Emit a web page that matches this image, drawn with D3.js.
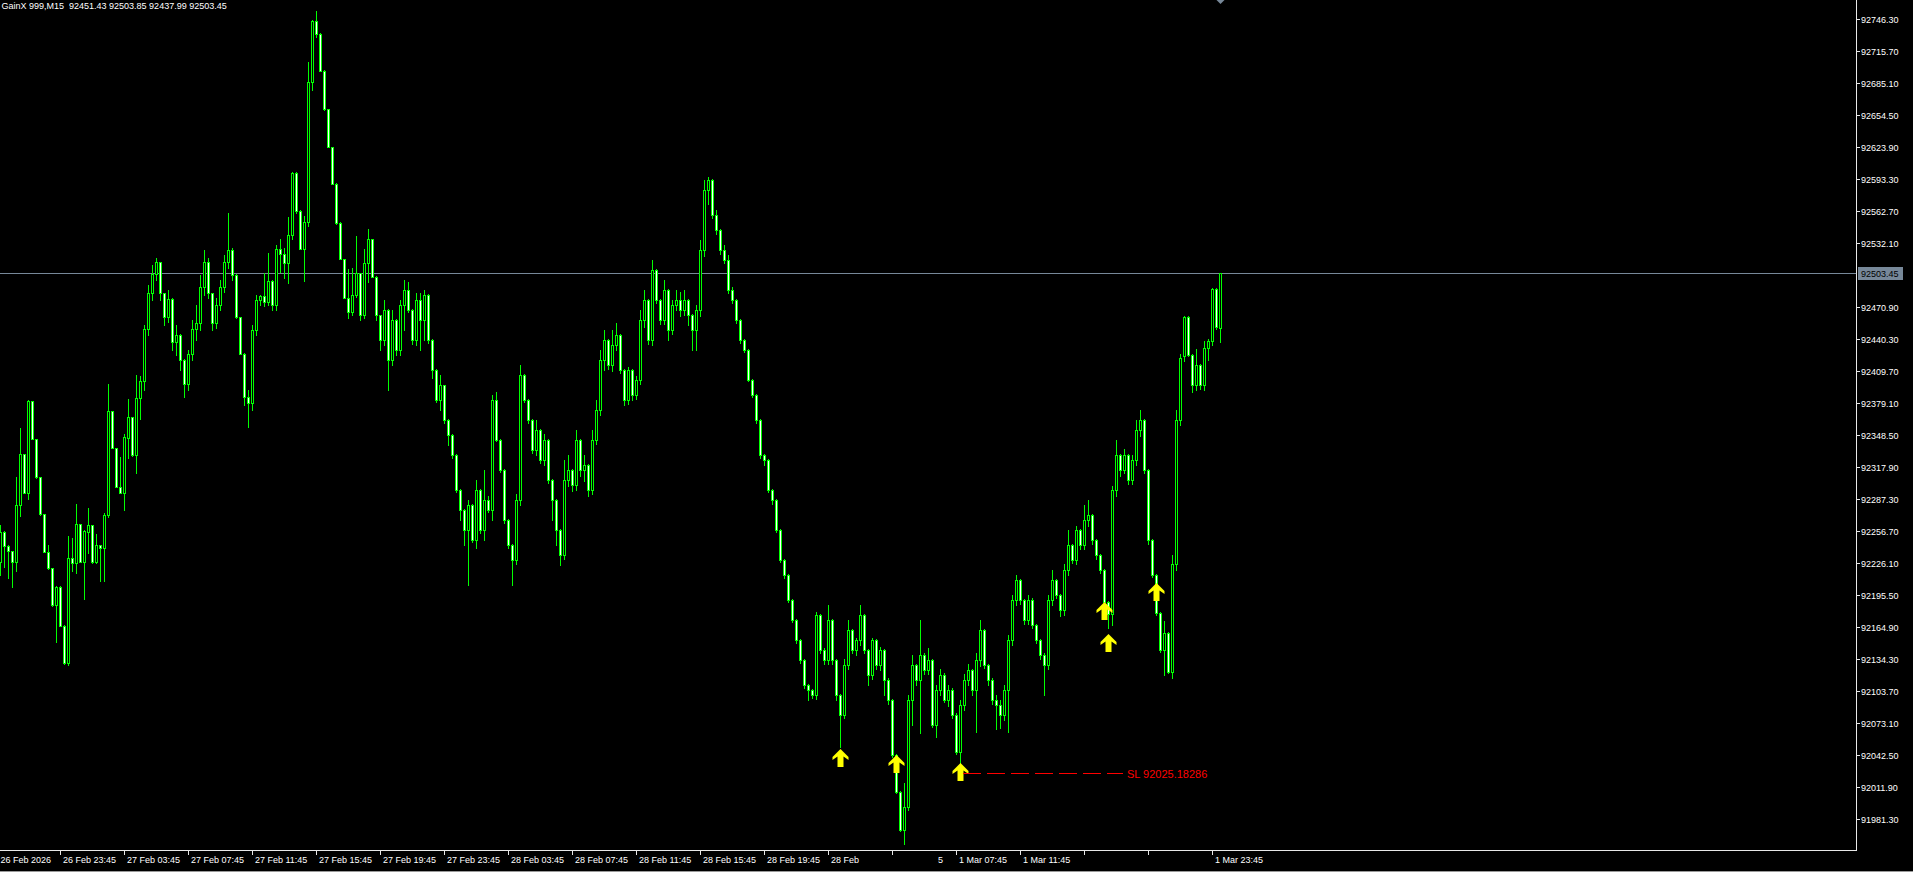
<!DOCTYPE html>
<html><head><meta charset="utf-8">
<script src="https://cdn.jsdelivr.net/npm/d3@7"></script>
<style>html,body{margin:0;padding:0;background:#000;overflow:hidden}svg{display:block}text{font-family:"Liberation Sans",Arial,sans-serif}</style>
</head><body><svg id="c" width="1913" height="872"></svg>
<script>
// ---- DATA ----
const title = "GainX 999,M15  92451.43 92503.85 92437.99 92503.45";
// M15 bars, [open, high, low, close], first bar 26 Feb 20:00
const ohlc = [
[92227.8,92262.9,92215.1,92256.5],[92256.5,92257.0,92223.0,92243.1],[92243.1,92244.0,92212.5,92237.4],[92237.4,92238.0,92203.0,92227.8],[92227.8,92308.8,92218.3,92281.7],
[92281.7,92355.3,92271.8,92330.5],[92330.5,92331.0,92293.0,92293.8],[92293.8,92382.7,92288.0,92381.2],[92381.2,92381.5,92344.5,92344.8],[92344.8,92345.0,92308.0,92308.5],
[92308.5,92309.0,92272.5,92273.1],[92273.1,92273.5,92236.5,92236.8],[92236.8,92243.8,92221.0,92221.5],[92221.5,92222.0,92185.5,92185.8],[92185.8,92204.0,92151.3,92203.6],
[92203.6,92204.0,92166.0,92166.6],[92166.6,92167.0,92130.0,92130.3],[92130.3,92252.4,92129.1,92231.1],[92231.1,92250.5,92218.3,92226.3],[92226.3,92283.0,92217.3,92263.6],
[92263.6,92264.0,92227.5,92227.8],[92227.8,92257.5,92192.2,92256.9],[92256.0,92279.2,92236.4,92262.6],[92262.6,92263.0,92226.5,92226.9],[92226.9,92254.3,92226.0,92243.5],
[92243.5,92244.0,92209.4,92241.2],[92241.2,92274.1,92209.4,92272.2],[92272.2,92397.7,92270.3,92371.6],[92371.6,92372.0,92336.0,92336.2],[92336.2,92336.5,92299.0,92299.5],
[92299.5,92327.9,92293.0,92293.2],[92293.2,92349.9,92276.6,92346.7],[92345.8,92383.4,92327.2,92365.9],[92365.9,92366.0,92329.0,92329.2],[92329.2,92406.0,92312.9,92384.0],
[92384.0,92405.0,92364.0,92400.6],[92400.6,92454.1,92392.0,92450.3],[92450.3,92492.3,92444.5,92484.7],[92484.7,92511.5,92478.0,92502.9],[92502.9,92518.2,92497.1,92514.3],
[92514.3,92514.5,92478.0,92484.7],[92484.7,92485.0,92454.1,92461.7],[92461.7,92487.6,92457.0,92478.9],[92478.9,92479.5,92430.2,92437.8],[92437.8,92454.1,92425.6,92444.5],
[92444.5,92445.0,92411.1,92420.6],[92420.6,92421.0,92385.3,92397.7],[92397.7,92430.2,92392.0,92426.4],[92426.4,92458.9,92420.6,92450.3],[92450.3,92473.2,92439.8,92456.0],
[92456.0,92501.9,92449.3,92490.4],[92490.4,92525.8,92482.8,92514.3],[92514.3,92518.2,92479.9,92484.7],[92484.7,92485.0,92449.3,92456.0],[92456.0,92479.9,92451.2,92473.2],
[92473.2,92497.1,92468.4,92490.4],[92490.4,92521.0,92485.6,92514.3],[92514.3,92561.2,92508.6,92525.8],[92525.8,92527.7,92497.1,92501.9],[92501.9,92502.5,92461.0,92461.7],
[92461.7,92462.0,92426.0,92426.4],[92426.4,92427.0,92377.6,92385.3],[92385.3,92392.0,92356.6,92379.5],[92379.5,92454.1,92372.8,92449.3],[92449.3,92482.8,92444.5,92478.0],
[92478.0,92483.0,92473.2,92481.8],[92481.8,92503.8,92472.3,92476.1],[92476.1,92523.0,92473.2,92496.2],[92496.2,92497.1,92468.4,92473.2],[92473.2,92530.6,92468.4,92526.8],
[92526.8,92536.6,92505.1,92522.0],[92522.0,92527.7,92499.0,92513.4],[92513.4,92557.3,92494.3,92540.1],[92540.1,92600.4,92536.3,92599.4],[92599.4,92600.4,92561.2,92563.1],
[92563.1,92563.5,92526.5,92526.8],[92526.8,92558.3,92496.2,92552.6],[92552.6,92705.5,92548.7,92686.4],[92686.4,92745.7,92678.8,92744.7],[92744.7,92754.3,92729.4,92732.3],
[92732.3,92733.0,92696.5,92696.9],[92696.9,92697.5,92660.0,92660.6],[92660.6,92661.0,92624.0,92624.3],[92624.3,92624.5,92588.5,92588.9],[92588.9,92589.5,92551.0,92551.6],
[92551.6,92552.0,92517.0,92517.2],[92517.2,92517.5,92479.5,92479.9],[92479.9,92507.6,92460.8,92466.5],[92466.5,92508.6,92463.7,92482.8],[92482.8,92539.2,92480.9,92503.8],
[92503.8,92504.0,92458.9,92463.7],[92463.7,92526.8,92460.8,92513.4],[92513.4,92545.9,92495.2,92536.3],[92536.3,92536.5,92499.5,92500.0],[92500.0,92500.5,92458.9,92463.7],
[92463.7,92464.0,92430.2,92439.8],[92439.8,92478.0,92435.0,92468.4],[92468.4,92469.0,92392.0,92420.6],[92420.6,92468.4,92415.9,92458.9],[92458.9,92459.5,92425.0,92430.2],
[92430.2,92478.0,92425.6,92473.2],[92473.2,92497.1,92449.3,92487.6],[92487.6,92495.2,92466.0,92468.4],[92468.4,92469.0,92436.0,92439.8],[92439.8,92484.7,92435.0,92478.0],
[92478.0,92484.7,92430.2,92458.9],[92458.9,92487.6,92439.8,92482.8],[92482.8,92483.5,92437.0,92439.8],[92439.8,92440.5,92403.4,92411.1],[92411.1,92411.5,92380.0,92382.4],
[92382.4,92406.3,92372.8,92396.7],[92396.7,92397.0,92360.0,92363.3],[92363.3,92364.0,92339.4,92348.9],[92348.9,92349.5,92327.0,92329.8],[92329.8,92330.5,92294.0,92296.4],
[92296.4,92297.0,92267.7,92277.2],[92277.2,92278.0,92243.8,92258.1],[92258.1,92286.8,92205.5,92282.0],[92282.0,92282.5,92246.0,92248.6],[92248.6,92306.0,92240.9,92296.4],
[92296.4,92297.0,92255.0,92258.1],[92258.1,92315.5,92248.6,92286.8],[92286.8,92290.0,92275.0,92277.2],[92277.2,92387.2,92267.7,92382.4],[92382.4,92390.0,92343.0,92344.2],
[92344.2,92345.0,92313.0,92315.5],[92315.5,92316.0,92265.0,92267.7],[92267.7,92268.5,92241.0,92243.8],[92243.8,92244.5,92205.5,92229.4],[92229.4,92292.0,92225.0,92286.8],
[92286.8,92415.9,92282.0,92406.3],[92406.3,92407.0,92380.0,92382.4],[92382.4,92383.0,92360.0,92363.3],[92363.3,92364.0,92332.0,92334.6],[92334.6,92363.3,92330.0,92353.7],
[92353.7,92354.5,92322.0,92325.0],[92325.0,92350.0,92320.0,92344.2],[92344.2,92345.0,92303.0,92306.0],[92306.0,92306.5,92267.7,92286.8],[92286.8,92287.5,92243.8,92258.1],
[92258.1,92259.0,92224.7,92234.2],[92234.2,92325.0,92230.0,92306.0],[92306.0,92329.8,92300.0,92315.5],[92315.5,92316.5,92295.0,92301.2],[92301.2,92353.7,92296.0,92344.2],
[92344.2,92345.0,92310.0,92315.5],[92315.5,92330.0,92305.0,92320.3],[92320.3,92321.0,92290.0,92296.4],[92296.4,92353.7,92292.0,92344.2],[92344.2,92382.4,92340.0,92372.8],
[92372.8,92430.2,92368.0,92420.6],[92420.6,92449.3,92411.1,92439.8],[92439.8,92440.5,92412.0,92415.9],[92415.9,92449.3,92410.0,92435.0],[92435.0,92456.0,92430.0,92444.5],
[92444.5,92445.0,92408.0,92411.1],[92411.1,92412.0,92377.6,92382.4],[92382.4,92414.0,92378.0,92411.1],[92411.1,92412.0,92382.4,92387.2],[92387.2,92405.0,92383.0,92401.5],
[92401.5,92468.4,92398.0,92458.9],[92458.9,92487.6,92452.0,92478.0],[92478.0,92479.0,92436.0,92439.8],[92439.8,92516.2,92435.0,92506.7],[92506.7,92507.5,92475.0,92478.0],
[92478.0,92479.0,92455.0,92458.9],[92458.9,92497.1,92455.0,92487.6],[92487.6,92488.5,92439.8,92449.3],[92449.3,92478.0,92445.0,92473.2],[92473.2,92487.6,92468.0,92478.0],
[92478.0,92485.6,92463.0,92468.4],[92468.4,92487.6,92464.0,92478.0],[92478.0,92479.0,92454.1,92463.7],[92463.7,92464.5,92430.2,92449.3],[92449.3,92473.2,92430.2,92468.4],
[92468.4,92535.4,92463.0,92525.8],[92525.8,92592.7,92520.0,92583.2],[92583.2,92595.6,92570.0,92592.7],[92592.7,92593.5,92556.0,92559.3],[92559.3,92564.0,92541.0,92544.9],
[92544.9,92545.5,92522.0,92525.8],[92525.8,92530.0,92513.0,92516.2],[92516.2,92521.0,92485.0,92487.6],[92487.6,92490.0,92475.0,92478.0],[92478.0,92479.0,92456.0,92458.9],
[92458.9,92460.0,92437.0,92439.8],[92439.8,92441.0,92428.0,92430.2],[92430.2,92431.0,92400.0,92401.5],[92401.5,92402.5,92385.0,92387.2],[92387.2,92388.0,92360.0,92363.3],
[92363.3,92364.0,92327.0,92329.8],[92329.8,92331.0,92320.0,92325.0],[92325.0,92326.0,92294.0,92296.4],[92296.4,92297.5,92283.0,92286.8],[92286.8,92287.5,92256.0,92258.1],
[92258.1,92259.0,92227.0,92229.4],[92229.4,92230.0,92212.0,92215.1],[92215.1,92216.0,92189.0,92191.2],[92191.2,92192.0,92170.0,92172.1],[92172.1,92173.0,92150.0,92152.9],
[92152.9,92154.0,92131.0,92133.8],[92133.8,92134.5,92107.0,92109.9],[92109.9,92111.0,92095.6,92105.2],[92105.2,92106.0,92097.0,92100.4],[92100.4,92179.7,92096.0,92176.9],
[92176.9,92177.5,92140.0,92143.4],[92143.4,92145.0,92130.0,92133.8],[92133.8,92186.4,92130.0,92172.1],[92172.1,92173.0,92130.0,92133.8],[92133.8,92134.5,92095.6,92100.4],
[92100.4,92101.5,92050.7,92081.3],[92081.3,92135.0,92078.0,92129.1],[92129.1,92172.1,92125.0,92162.5],[92162.5,92163.5,92140.0,92143.4],[92143.4,92155.0,92138.0,92152.9],
[92152.9,92186.4,92148.0,92176.9],[92176.9,92178.0,92140.0,92143.4],[92143.4,92144.5,92109.9,92119.5],[92119.5,92155.0,92115.0,92152.9],[92152.9,92154.0,92125.0,92129.1],
[92129.1,92146.0,92124.0,92143.4],[92143.4,92144.5,92100.4,92114.7],[92114.7,92116.0,92092.0,92095.6],[92095.6,92096.5,92041.0,92043.0],[92043.0,92044.0,92006.0,92007.6],
[92007.6,92008.5,91970.0,91971.3],[91971.3,92016.3,91957.9,91993.3],[91993.3,92100.4,91990.0,92095.6],[92095.6,92138.6,92071.7,92129.1],[92129.1,92130.0,92110.0,92114.7],
[92114.7,92172.1,92064.1,92138.6],[92138.6,92140.0,92120.0,92124.3],[92124.3,92145.0,92120.0,92133.8],[92133.8,92135.0,92070.0,92071.7],[92071.7,92110.0,92060.3,92105.2],
[92105.2,92125.0,92100.0,92119.5],[92119.5,92121.0,92093.0,92095.6],[92095.6,92110.0,92090.0,92105.2],[92105.2,92106.5,92078.0,92081.3],[92081.3,92082.5,92044.0,92045.9],
[92045.9,92095.0,92035.4,92090.8],[92090.8,92120.0,92086.0,92114.7],[92114.7,92130.0,92110.0,92124.3],[92124.3,92125.5,92100.0,92105.2],[92105.2,92140.0,92065.0,92133.8],
[92133.8,92172.1,92128.0,92162.5],[92162.5,92163.5,92126.0,92129.1],[92129.1,92130.0,92110.0,92114.7],[92114.7,92116.0,92092.0,92095.6],[92095.6,92100.0,92067.9,92090.8],
[92090.8,92095.0,92068.8,92081.3],[92081.3,92110.0,92076.0,92105.2],[92105.2,92158.0,92065.0,92152.9],[92152.9,92196.0,92148.0,92191.2],[92191.2,92215.1,92186.0,92210.3],
[92210.3,92211.5,92187.0,92191.2],[92191.2,92192.0,92168.0,92172.1],[92172.1,92196.0,92168.0,92191.2],[92191.2,92192.5,92164.0,92167.3],[92167.3,92168.5,92150.0,92152.9],
[92152.9,92154.0,92135.0,92138.6],[92138.6,92140.0,92100.4,92129.1],[92129.1,92196.0,92125.0,92191.2],[92191.2,92219.9,92186.0,92210.3],[92210.3,92211.5,92193.0,92196.0],
[92196.0,92197.0,92176.0,92181.6],[92181.6,92225.0,92177.0,92219.9],[92219.9,92258.1,92215.0,92243.8],[92243.8,92245.0,92226.0,92229.4],[92229.4,92262.0,92225.0,92258.1],
[92258.1,92259.0,92240.0,92243.8],[92243.8,92282.0,92240.0,92267.7],[92267.7,92286.8,92262.0,92272.5],[92272.5,92273.5,92245.0,92248.6],[92248.6,92249.5,92230.0,92234.2],
[92234.2,92235.0,92217.0,92219.9],[92219.9,92221.0,92187.0,92189.3],[92189.3,92190.0,92164.4,92177.8],[92177.8,92300.0,92167.3,92296.4],[92296.4,92344.2,92290.0,92329.8],
[92329.8,92331.0,92310.0,92315.5],[92315.5,92335.0,92312.0,92329.8],[92329.8,92331.0,92302.0,92306.0],[92306.0,92330.0,92302.0,92325.0],[92325.0,92363.3,92320.0,92353.7],
[92353.7,92372.8,92348.0,92363.3],[92363.3,92364.0,92312.0,92315.5],[92315.5,92316.5,92245.0,92248.6],[92248.6,92249.5,92213.0,92215.1],[92215.1,92216.0,92177.0,92178.8],
[92178.8,92179.5,92141.0,92143.4],[92143.4,92171.1,92119.5,92159.7],[92159.7,92160.5,92121.0,92122.4],[92122.4,92234.2,92116.6,92225.6],[92225.6,92372.8,92220.0,92363.3],
[92363.3,92426.4,92358.0,92422.6],[92424.5,92462.7,92420.0,92461.7],[92461.7,92462.5,92424.0,92425.6],[92425.6,92426.5,92390.0,92396.7],[92396.7,92431.4,92392.0,92415.9],
[92415.9,92417.0,92393.0,92396.7],[92396.7,92438.8,92392.0,92432.1],[92432.1,92440.7,92420.6,92438.8],[92438.8,92489.5,92435.0,92488.5],[92488.5,92489.0,92450.0,92452.2],
[92451.43,92503.85,92437.99,92503.45]
];
const priceTicks = [92746.30,92715.70,92685.10,92654.50,92623.90,92593.30,92562.70,92532.10,92470.90,92440.30,92409.70,92379.10,92348.50,92317.90,92287.30,92256.70,92226.10,92195.50,92164.90,92134.30,92103.70,92073.10,92042.50,92011.90,91981.30];
const timeTickBars = [15,31,47,63,79,95,111,127,143,159,175,191,207,223,239,255,271,287,303];
const timeTickLabels = ["26 Feb 23:45","27 Feb 03:45","27 Feb 07:45","27 Feb 11:45","27 Feb 15:45","27 Feb 19:45","27 Feb 23:45","28 Feb 03:45","28 Feb 07:45","28 Feb 11:45","28 Feb 15:45","28 Feb 19:45","28 Feb 23:45","1 Mar 03:45","1 Mar 07:45","1 Mar 11:45","","","1 Mar 23:45"];
const firstDateLabel = "26 Feb 2026";
const currentPrice = 92503.45;
const arrowBars = [210,224,240,276,277,289];
const arrowPrices = [92048.8,92043.0,92035.4,92189.3,92158.7,92207.5];
const slPrice = 92025.18286, slStartBar = 240, slLabel = "SL 92025.18286";

// ---- LAYOUT ----
const W = 1913, H = 872, axisX = 1856, axisY = 850;
const svg = d3.select("#c");
svg.append("rect").attr("width", W).attr("height", H).attr("fill", "#000");

const x = d3.scaleLinear().domain([0, 305]).range([0, 1220]);
const y = d3.scaleLinear().domain([91981.3, 92746.3]).range([819.3, 19.3]);

const LIME = "#00ff00";
// current price line
svg.append("line").attr("x1", 0).attr("x2", axisX).attr("y1", Math.round(y(currentPrice)) + 0.5).attr("y2", Math.round(y(currentPrice)) + 0.5)
  .attr("stroke", "#778899").attr("stroke-width", 1);

// candles
const g = svg.append("g");
ohlc.forEach((d, i) => {
  const [o, h, l, c] = d;
  const cx = Math.round(x(i));
  const yh = Math.round(y(h)), yl = Math.round(y(l));
  const top = Math.round(y(Math.max(o, c))), bot = Math.round(y(Math.min(o, c)));
  g.append("rect").attr("x", cx).attr("y", yh).attr("width", 1).attr("height", Math.max(1, yl - yh + 1)).attr("fill", LIME);
  const bh = Math.max(1, bot - top + 1);
  g.append("rect").attr("x", cx - 1).attr("y", top).attr("width", 3).attr("height", bh).attr("fill", LIME);
  if (bh > 2) {
    g.append("rect").attr("x", cx).attr("y", top + 1).attr("width", 1).attr("height", bh - 2)
      .attr("fill", c >= o ? "#000" : "#fff");
  }
});

// arrows
const arrowPath = "M0,0 L8,8 L8,11 L3,7.5 L3,18 L-3,18 L-3,7.5 L-8,11 L-8,8 Z";
arrowBars.forEach((b, k) => {
  svg.append("path").attr("d", arrowPath)
    .attr("transform", `translate(${Math.round(x(b)) + 0.5},${Math.round(y(arrowPrices[k]))})`)
    .attr("fill", "#ffff00");
});

// SL line
const slY = Math.round(y(slPrice)) + 0.5;
svg.append("line").attr("x1", Math.round(x(slStartBar)) + 3).attr("x2", 1123).attr("y1", slY).attr("y2", slY)
  .attr("stroke", "#ff0000").attr("stroke-width", 1).attr("stroke-dasharray", "18,6");
svg.append("text").attr("x", 1127).attr("y", slY + 4).attr("fill", "#ff0000").attr("font-size", "11px").text(slLabel);

// chart shift marker
svg.append("path").attr("d", `M${Math.round(x(305)) - 3.5},0 L${Math.round(x(305)) + 4.5},0 L${Math.round(x(305)) + 0.5},4 Z`).attr("fill", "#778899");

// axes lines
const FG = "#e8e8e8";
svg.append("line").attr("x1", axisX + 0.5).attr("x2", axisX + 0.5).attr("y1", 0).attr("y2", axisY + 1).attr("stroke", FG);
svg.append("line").attr("x1", 0).attr("x2", axisX + 1).attr("y1", axisY + 0.5).attr("y2", axisY + 0.5).attr("stroke", FG);

// price ticks
const pt = svg.append("g");
priceTicks.forEach(p => {
  const yy = Math.round(y(p)) + 0.5;
  pt.append("line").attr("x1", axisX).attr("x2", axisX + 4).attr("y1", yy).attr("y2", yy).attr("stroke", FG);
  pt.append("text").attr("x", axisX + 5).attr("y", yy + 3.3).attr("fill", "#fff").attr("font-size", "9px").text(d3.format(".2f")(p));
});
// current price box
const cpy = Math.round(y(currentPrice));
svg.append("rect").attr("x", axisX + 2).attr("y", cpy - 6).attr("width", 45).attr("height", 13).attr("fill", "#778899");
svg.append("text").attr("x", axisX + 5).attr("y", cpy + 3.5).attr("fill", "#000").attr("font-size", "9px").text(d3.format(".2f")(currentPrice));

// time ticks
const tt = svg.append("g");
timeTickBars.forEach((b, k) => {
  const xx = Math.round(x(b)) + 0.5;
  tt.append("line").attr("x1", xx).attr("x2", xx).attr("y1", axisY).attr("y2", axisY + 5).attr("stroke", FG);
  if (timeTickLabels[k]) tt.append("text").attr("x", xx + 2.5).attr("y", 862.5).attr("fill", "#fff").attr("font-size", "9px").text(timeTickLabels[k]);
});
tt.append("text").attr("x", 0.5).attr("y", 862.5).attr("fill", "#fff").attr("font-size", "9px").text(firstDateLabel);
// overlapped region of the time scale
svg.append("rect").attr("x", 860).attr("y", 856).attr("width", 78).attr("height", 14).attr("fill", "#000");

// title
svg.append("text").attr("x", 1.5).attr("y", 9).attr("fill", "#fff").attr("font-size", "9px").style("white-space", "pre").text(title);

// bottom border
svg.append("rect").attr("x", 0).attr("y", 871).attr("width", W).attr("height", 1).attr("fill", "#9a9a9a");
</script></body></html>
